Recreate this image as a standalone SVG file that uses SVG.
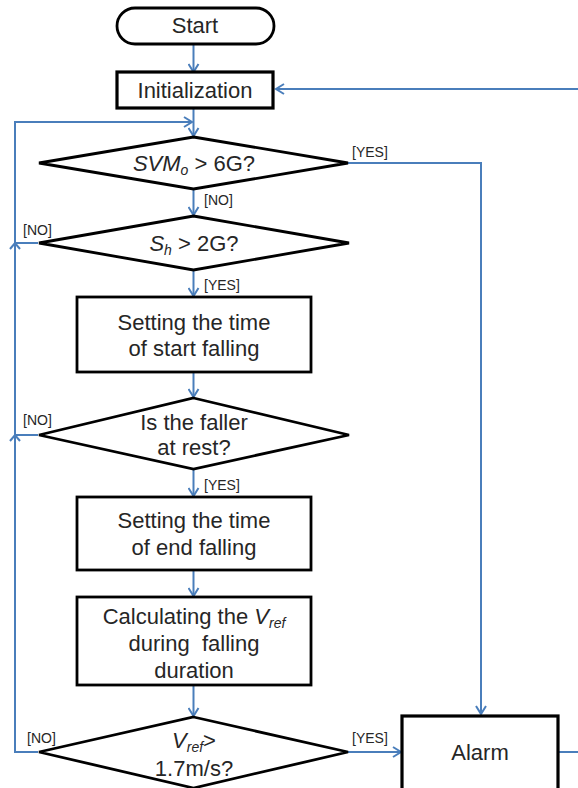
<svg xmlns="http://www.w3.org/2000/svg" width="578" height="788" viewBox="0 0 578 788">
<style>
.node{fill:#fff;stroke:#000;stroke-width:2.8}
.thick{stroke-width:3.2}
.t{font-family:"Liberation Sans",Arial,sans-serif;font-size:22px;fill:#262626;text-anchor:middle}
.lbl{font-family:"Liberation Sans",Arial,sans-serif;font-size:14px;fill:#262626}
.c{fill:none;stroke:#4a7ebb;stroke-width:2}
</style>
<defs>
<marker id="ah" markerUnits="userSpaceOnUse" markerWidth="12" markerHeight="12" refX="9" refY="6" orient="auto">
<path d="M1,1 L9,6 L1,11" fill="none" stroke="#4a7ebb" stroke-width="2"/>
</marker>
</defs>
<rect width="578" height="788" fill="#fff"/>
<g id="connectors">
<path class="c" d="M193.5,44 V72" marker-end="url(#ah)"/>
<path class="c" d="M193.5,108 V136" marker-end="url(#ah)"/>
<path class="c" d="M578,89 H276" marker-end="url(#ah)"/>
<path class="c" d="M38,752 H15 V122 H192" marker-end="url(#ah)"/>
<path class="c" d="M38,243 H15"/>
<path class="c" d="M10,249 L15,243 L20,249"/>
<path class="c" d="M38,435 H15"/>
<path class="c" d="M10,441 L15,435 L20,441"/>
<path class="c" d="M348,163 H481 V714" marker-end="url(#ah)"/>
<path class="c" d="M193.5,189 V215" marker-end="url(#ah)"/>
<path class="c" d="M193.5,270 V296" marker-end="url(#ah)"/>
<path class="c" d="M193.5,372 V397" marker-end="url(#ah)"/>
<path class="c" d="M193.5,469 V496" marker-end="url(#ah)"/>
<path class="c" d="M193.5,570 V596" marker-end="url(#ah)"/>
<path class="c" d="M193.5,685 V716" marker-end="url(#ah)"/>
<path class="c" d="M348,752 H401" marker-end="url(#ah)"/>
<path class="c" d="M558,752 H578"/>
<text class="lbl" x="352" y="157">[YES]</text>
<text class="lbl" x="204" y="205">[NO]</text>
<text class="lbl" x="23" y="235">[NO]</text>
<text class="lbl" x="204" y="290">[YES]</text>
<text class="lbl" x="23" y="425">[NO]</text>
<text class="lbl" x="204" y="490">[YES]</text>
<text class="lbl" x="27" y="743">[NO]</text>
<text class="lbl" x="352" y="743">[YES]</text>
</g>
<g id="start">
<rect class="node" x="117" y="8" width="157" height="36" rx="18"/>
<text class="t" x="195" y="33">Start</text>
</g>
<g id="init">
<rect class="node thick" x="117" y="72" width="156" height="36"/>
<text class="t" x="195" y="98">Initialization</text>
</g>
<g id="d1">
<polygon class="node" points="193.5,137 348,163 193.5,189 39,163"/>
<text class="t" x="194" y="171"><tspan font-style="italic">SVM</tspan><tspan font-style="italic" font-size="14" dy="4">o</tspan><tspan dy="-4"> &gt; 6G?</tspan></text>
</g>
<g id="d2">
<polygon class="node" points="193.5,216 349,243 193.5,270 39,243"/>
<text class="t" x="194" y="251"><tspan font-style="italic">S</tspan><tspan font-style="italic" font-size="14" dy="4">h</tspan><tspan dy="-4"> &gt; 2G?</tspan></text>
</g>
<g id="b1">
<rect class="node" x="77" y="297" width="234" height="75"/>
<text class="t" x="194" y="330">Setting the time</text>
<text class="t" x="194" y="356">of start falling</text>
</g>
<g id="d3">
<polygon class="node" points="193.5,398 349,435 193.5,469 39,435"/>
<text class="t" x="194" y="430">Is the faller</text>
<text class="t" x="194" y="455">at rest?</text>
</g>
<g id="b2">
<rect class="node" x="77" y="497" width="234" height="73"/>
<text class="t" x="194" y="528">Setting the time</text>
<text class="t" x="194" y="555">of end falling</text>
</g>
<g id="b3">
<rect class="node" x="77" y="597" width="234" height="88"/>
<text class="t" x="194" y="624">Calculating the <tspan font-style="italic">V</tspan><tspan font-style="italic" font-size="14" dy="4">ref</tspan></text>
<text class="t" x="194" y="651">during&#160; falling</text>
<text class="t" x="194" y="678">duration</text>
</g>
<g id="d4">
<polygon class="node" points="193.5,717 348,752 193.5,788 39,752"/>
<text class="t" x="194" y="748"><tspan font-style="italic">V</tspan><tspan font-style="italic" font-size="14" dy="4">ref</tspan><tspan dy="-4">&gt;</tspan></text>
<text class="t" x="194" y="776">1.7m/s?</text>
</g>
<g id="alarm">
<rect class="node thick" x="402" y="716" width="156" height="90"/>
<text class="t" x="480" y="760">Alarm</text>
</g>
</svg>
